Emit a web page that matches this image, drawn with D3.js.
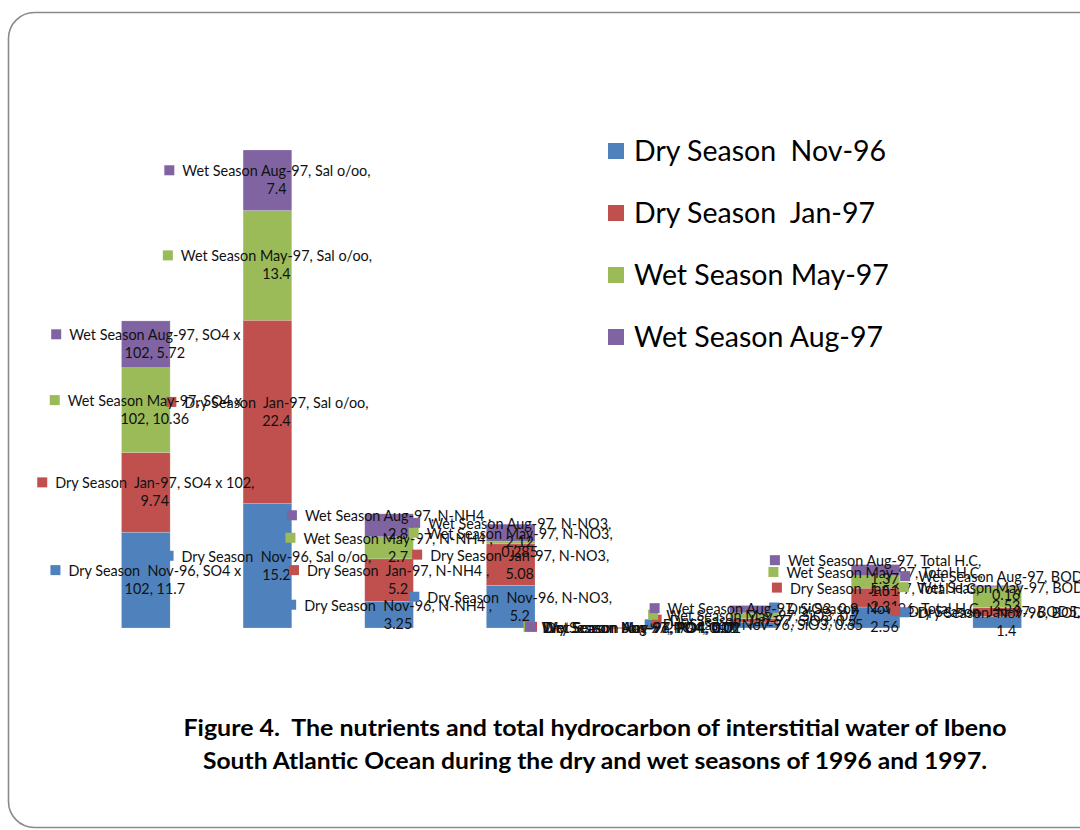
<!DOCTYPE html>
<html>
<head>
<meta charset="utf-8">
<script src="https://cdn.jsdelivr.net/npm/d3@7"></script>
<style>
  html, body { margin: 0; padding: 0; background: #fff; }
  svg { display: block; }
  text { font-family: Lato, "Open Sans", sans-serif; white-space: pre; }
</style>
</head>
<body>
<svg id="chart" width="1080" height="830"></svg>
<script>
// Parameters measured in the interstitial water
const categories = ["SO4 x 102", "Sal o/oo", "N-NH4 ", "N-NO3", "PO4", "SiO3", "Total H.C", "BOD5"];

// Sampling campaigns (stack order, bottom to top)
const seriesNames = ["Dry Season  Nov-96", "Dry Season  Jan-97", "Wet Season May-97", "Wet Season Aug-97"];

const dryNov96 = [11.7, 15.2, 3.25, 5.2, 0.02, 0.65, 2.56, 1.4];
const dryJan97 = [9.74, 22.4, 5.2, 5.08, 0.01, 0.5, 2.31, 1.1];
const wetMay97 = [10.36, 13.4, 2.7, 0.285, 0.01, 0.7, 1.51, 2.53];
const wetAug97 = [5.72, 7.4, 2.8, 2.12, 0.01, 0.9, 1.37, 0.16];

const colors = ["#4F81BD", "#C0504D", "#9BBB59", "#8064A2"];

const captionLines = [
  "Figure 4.  The nutrients and total hydrocarbon of interstitial water of Ibeno",
  "South Atlantic Ocean during the dry and wet seasons of 1996 and 1997."
];

const svg = d3.select("#chart");

// Rounded frame around the figure
svg.append("rect")
  .attr("x", 8.5).attr("y", 12.5)
  .attr("width", 1100).attr("height", 815)
  .attr("rx", 26).attr("ry", 26)
  .attr("fill", "#fff")
  .attr("stroke", "#8a8a8a")
  .attr("stroke-width", 1.6);

// Build a table the stack layout can use
const valueArrays = [dryNov96, dryJan97, wetMay97, wetAug97];
const table = categories.map((c, i) => {
  const row = { category: c };
  seriesNames.forEach((s, j) => { row[s] = valueArrays[j][i]; });
  return row;
});

const stacked = d3.stack().keys(seriesNames)(table);
const maxTotal = d3.max(stacked[stacked.length - 1], d => d[1]);

const x = d3.scaleBand()
  .domain(categories)
  .range([85, 1058])
  .paddingInner(0.6)
  .paddingOuter(0.3);

const y = d3.scaleLinear()
  .domain([0, maxTotal])
  .range([628, 150]);

// Stacked columns
const layers = svg.append("g").attr("class", "bars")
  .selectAll("g")
  .data(stacked)
  .join("g")
  .attr("fill", (d, i) => colors[i]);

layers.selectAll("rect")
  .data(d => d)
  .join("rect")
  .attr("x", d => x(d.data.category))
  .attr("width", x.bandwidth())
  .attr("y", d => y(d[1]))
  .attr("height", d => Math.max(0.8, y(d[0]) - y(d[1])))
  .attr("stroke", "rgba(255,255,255,0.3)")
  .attr("stroke-width", 0.6);

// Data labels with legend keys, centred on each segment
const labelFont = 14.4;
const lineH = 18;
const wrapWidth = 201;
const keySize = 10;
const keyGap = 8;

const measurer = svg.append("text")
  .attr("font-size", labelFont)
  .attr("visibility", "hidden");
function textWidth(s) {
  measurer.text(s);
  return measurer.node().getComputedTextLength();
}
function wrap(s) {
  const words = s.split(" ");
  const lines = [];
  let cur = null;
  words.forEach(w => {
    const trial = cur === null ? w : cur + " " + w;
    if (cur !== null && w !== "" && textWidth(trial) > wrapWidth) {
      lines.push(cur);
      cur = w;
    } else {
      cur = trial;
    }
  });
  if (cur !== null) lines.push(cur);
  return lines;
}

const labelLayer = svg.append("g").attr("class", "labels");
stacked.forEach((layer, si) => {
  layer.forEach(d => {
    const cat = d.data.category;
    const val = d.data[layer.key];
    const full = `${layer.key}, ${cat}, ${val}`;
    const lines = wrap(full);
    const widths = lines.map(textWidth);
    const maxW = d3.max(widths);
    const cx = x(cat) + x.bandwidth() / 2;
    const cy = (y(d[0]) + y(d[1])) / 2;
    const startX = cx - (keySize + keyGap + maxW) / 2;
    const textCx = startX + keySize + keyGap + maxW / 2;
    const firstY = cy - (lines.length - 1) * lineH / 2;

    const g = labelLayer.append("g");
    g.append("rect")
      .attr("x", startX)
      .attr("y", firstY - keySize / 2 - 1)
      .attr("width", keySize)
      .attr("height", keySize)
      .attr("fill", colors[si]);
    lines.forEach((ln, li) => {
      g.append("text")
        .attr("x", textCx)
        .attr("y", firstY + li * lineH)
        .attr("dy", "0.35em")
        .attr("text-anchor", "middle")
        .attr("font-size", labelFont)
        .attr("fill", "#111")
        .text(ln);
    });
  });
});
measurer.remove();

// Legend
const legend = svg.append("g").attr("class", "legend");
seriesNames.forEach((s, i) => {
  const cy = 151 + i * 62;
  legend.append("rect")
    .attr("x", 608).attr("y", cy - 8)
    .attr("width", 16).attr("height", 16)
    .attr("fill", colors[i]);
  legend.append("text")
    .attr("x", 634).attr("y", cy)
    .attr("dy", "0.36em")
    .attr("font-size", 28.5)
    .attr("fill", "#000")
    .text(s);
});

// Caption
const captionWidths = [823, 784];
captionLines.forEach((t, i) => {
  svg.append("text")
    .attr("x", 595)
    .attr("y", 736 + i * 33)
    .attr("text-anchor", "middle")
    .attr("font-size", 22.5)
    .attr("font-weight", "bold")
    .attr("fill", "#000")
    .attr("textLength", captionWidths[i])
    .attr("lengthAdjust", "spacingAndGlyphs")
    .text(t);
});
</script>
</body>
</html>
